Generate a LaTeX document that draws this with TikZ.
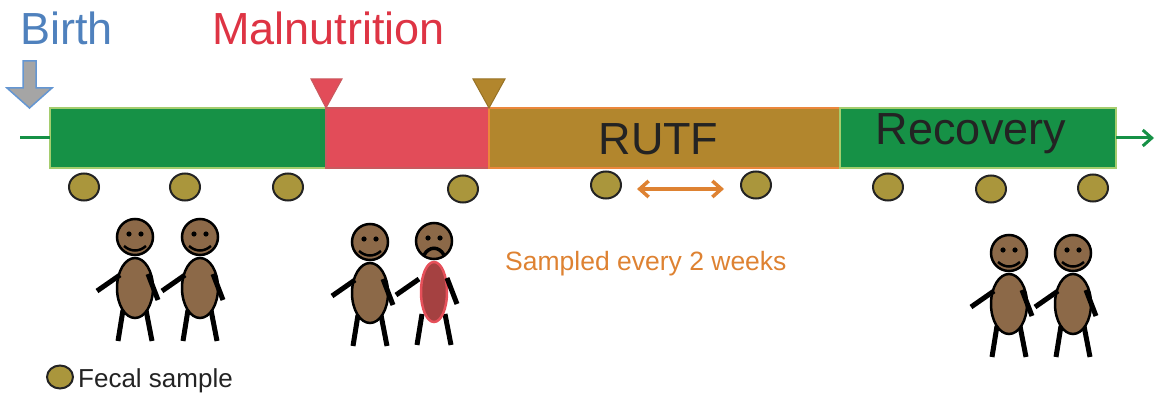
\documentclass[tikz,border=0pt]{standalone}
\usepackage{fontspec}
\setmainfont{Liberation Sans}
\usetikzlibrary{positioning,shapes.geometric,arrows.meta}

% legs, body, arms, head and eyes of one child; #1 body fill, #2 body line, #3 body half width
\newcommand\kidparts[3]{%
  \draw[limb] (-12,73) -- (-17,104) (11,73) -- (17,104);
  \draw[line width=2.5,draw=#2,fill=#1] (0,51) ellipse (#3 and 30);
  \draw[limb] (-15,38) -- (-38,54) (13,37) -- (23,63);
  \draw[line width=2.5,fill=skin] (0,0) circle (18);
  \fill (-6,-3) circle (2.6) (6,-3) circle (2.6);
}

\tikzset{
  limb/.style={line width=5},
  kid/.pic={\kidparts{skin}{black}{18}
    \draw[line width=2.5] (-11,9) .. controls (-4,15) and (4,15) .. (11,9);},
  sick kid/.pic={\kidparts{sick}{sickline}{13}
    \draw[line width=3.5] (-10,14) .. controls (-5,5) and (5,5) .. (10,14);},
  bar/.style={draw,line width=1.5,minimum height=60,outer sep=0,inner sep=0},
  sample/.style={ellipse,draw=ink,line width=2,fill=stool,minimum width=30,
    minimum height=27,inner sep=0},
  big/.style={inner sep=0,font=\fontsize{45}{50}\selectfont},
}

\begin{document}
\begin{tikzpicture}[x=1pt,y=-1pt]
        \definecolor{leaf}{RGB}{22,145,70}
        \definecolor{leafline}{RGB}{165,205,110}
        \definecolor{rose}{RGB}{226,76,89}
        \definecolor{roseline}{RGB}{200,90,95}
        \definecolor{gold}{RGB}{178,134,45}
        \definecolor{goldline}{RGB}{235,135,60}
        \definecolor{ink}{RGB}{35,35,35}
        \definecolor{sky}{RGB}{79,129,189}
        \definecolor{skyline}{RGB}{100,150,210}
        \definecolor{arrowgray}{RGB}{165,165,165}
        \definecolor{alarm}{RGB}{222,52,68}
        \definecolor{tangerine}{RGB}{222,130,50}
        \definecolor{skin}{RGB}{140,105,72}
        \definecolor{sick}{RGB}{165,65,65}
        \definecolor{sickline}{RGB}{230,80,90}
        \definecolor{stool}{RGB}{170,150,60}
        \useasboundingbox (0,0) rectangle (1157,398);

        \node[big,anchor=base west,text=sky] (birth) at (20,45) {Birth};
        \node[big,anchor=base west,text=alarm] (malnutrition) at (212,45) {Malnutrition};
        \draw[line width=1.5,draw=skyline,fill=arrowgray] (23,61) -- (36,61) -- (36,88)
            -- (52,88) -- (29.5,108) -- (7,88) -- (23,88) -- cycle;

        \node[bar,fill=leaf,draw=leafline,minimum width=276,anchor=west] (healthy) at (50,138) {};
        \node[bar,fill=rose,draw=roseline,minimum width=163,right=0pt of healthy] (malnut) {};
        \node[bar,fill=gold,draw=goldline,minimum width=351,right=0pt of malnut] (rutf) {};
        \node[bar,fill=leaf,draw=leafline,minimum width=276,right=0pt of rutf] (recovery) {};
        \node[big,text=ink,anchor=base] (rutf text) at ([xshift=-6,yshift=-17]rutf.center) {RUTF};
        \node[big,text=ink,anchor=base] (recovery text) at ([xshift=-7,yshift=-7]recovery.center) {Recovery};

        \fill[rose,draw=roseline,line width=1] ([shift={(-15,-29)}]malnut.north west)
            -- ++(31,0) -- (malnut.north west) -- cycle;
        \fill[gold,draw=gold!85!black,line width=1] ([shift={(-16,-29)}]rutf.north west)
            -- ++(32,0) -- (rutf.north west) -- cycle;

        \coordinate (start) at (20,138);
        \coordinate (end) at (1154,138);
        \draw[leaf,line width=3] (start) -- (healthy.west);
        \draw[leaf,line width=3,-{Straight Barb[length=9pt,width=16pt]}] (recovery.east) -- (end);

        \foreach \x/\y [count=\i] in {84/187,185/187,288/187,463/189,606/185,756/185,888/187,991/189,1093/188}
            \node[sample] (s\i) at (\x,\y) {};

        \coordinate (gap a) at (637,189);
        \coordinate (gap b) at (724,189);
        \draw[tangerine,line width=3.5,{Straight Barb[length=9pt,width=16pt]}-{Straight Barb[length=9pt,width=16pt]}] (gap a) -- (gap b);
        \node[inner sep=0,anchor=base west,text=tangerine,font=\fontsize{26.5}{30}\selectfont]
            (every) at (505,271) {Sampled every 2 weeks};

        \foreach \x/\y in {135/237, 200/237, 370/242, 1009/253, 1073/253}
            \pic at (\x,\y) {kid};
        \pic at (434,241) {sick kid};

        \node[sample,minimum width=26,minimum height=23] (legend) at (60,377) {};
        \node[inner sep=0,anchor=base west,text=ink,font=\fontsize{26}{30}\selectfont]
            (legendtext) at (78,387) {Fecal sample};
    \end{tikzpicture}
\end{document}
